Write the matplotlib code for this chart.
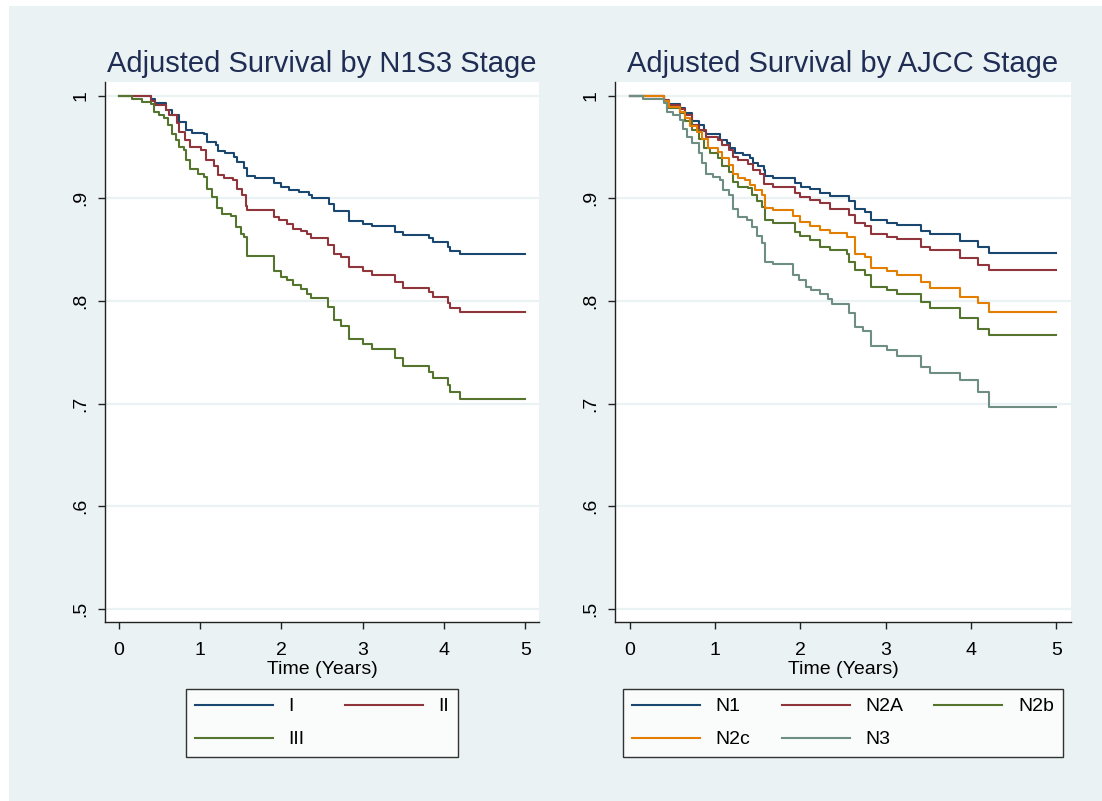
import matplotlib.pyplot as plt
from matplotlib.patches import Rectangle
from matplotlib.lines import Line2D

plt.rcParams["font.family"] = ["Liberation Sans", "DejaVu Sans"]

# ─── Stata s2color palette ───────────────────────────────────────────────────
BG = "#EAF2F3"
TITLE_C = "#1F2D55"
NAVY, MAROON, FOREST, DKORANGE, TEAL = "#1A476F", "#90353B", "#55752F", "#E37E00", "#6E8E84"

# ─── Left panel: N1S3 stage (step points: time, survival) ────────────────────
t_I = [0, 0.39, 0.44, 0.58, 0.65, 0.74, 0.83, 0.90, 1.05, 1.09, 1.19, 1.22, 1.31, 1.42,
       1.46, 1.54, 1.58, 1.68, 1.91, 1.99, 2.10, 2.22, 2.34, 2.38, 2.59, 2.65, 2.83,
       3.00, 3.12, 3.40, 3.50, 3.82, 3.87, 4.05, 4.08, 4.20, 5.0]
s_I = [1.0, 0.9967, 0.9925, 0.986, 0.981, 0.9746, 0.9664, 0.964, 0.9625, 0.955, 0.952,
       0.946, 0.944, 0.940, 0.935, 0.930, 0.922, 0.920, 0.915, 0.911, 0.908, 0.906,
       0.903, 0.900, 0.894, 0.888, 0.878, 0.875, 0.873, 0.867, 0.864, 0.861, 0.857,
       0.853, 0.849, 0.846, 0.846]

t_II = [0, 0.39, 0.45, 0.58, 0.62, 0.72, 0.74, 0.82, 0.88, 1.01, 1.07, 1.17, 1.22, 1.29,
        1.40, 1.45, 1.52, 1.56, 1.58, 1.91, 1.97, 2.07, 2.14, 2.24, 2.32, 2.36, 2.57,
        2.65, 2.73, 2.83, 3.00, 3.12, 3.40, 3.50, 3.82, 3.87, 4.05, 4.08, 4.20, 5.0]
s_II = [1.0, 0.995, 0.991, 0.986, 0.981, 0.973, 0.965, 0.957, 0.950, 0.947, 0.937,
        0.931, 0.923, 0.920, 0.9175, 0.909, 0.903, 0.893, 0.889, 0.882, 0.879, 0.875,
        0.870, 0.868, 0.865, 0.861, 0.855, 0.846, 0.843, 0.833, 0.829, 0.825, 0.818,
        0.813, 0.809, 0.804, 0.798, 0.793, 0.789, 0.789]

t_III = [0, 0.16, 0.29, 0.40, 0.43, 0.49, 0.55, 0.60, 0.66, 0.70, 0.74, 0.80, 0.83, 0.87,
         0.97, 1.05, 1.09, 1.15, 1.21, 1.27, 1.38, 1.44, 1.50, 1.54, 1.58, 1.91, 1.99,
         2.07, 2.14, 2.24, 2.32, 2.36, 2.57, 2.65, 2.73, 2.83, 3.00, 3.12, 3.40, 3.50,
         3.82, 3.87, 4.05, 4.08, 4.20, 5.0]
s_III = [1.0, 0.997, 0.994, 0.992, 0.984, 0.981, 0.978, 0.971, 0.963, 0.957, 0.950,
         0.947, 0.937, 0.929, 0.924, 0.921, 0.909, 0.901, 0.891, 0.885, 0.883, 0.872,
         0.865, 0.862, 0.844, 0.829, 0.823, 0.820, 0.816, 0.812, 0.807, 0.803, 0.794,
         0.781, 0.776, 0.763, 0.758, 0.753, 0.744, 0.737, 0.731, 0.725, 0.718, 0.711,
         0.705, 0.705]

# ─── Right panel: AJCC stage ─────────────────────────────────────────────────
t_N1 = [0, 0.40, 0.44, 0.59, 0.65, 0.73, 0.81, 0.87, 0.90, 1.06, 1.14, 1.18, 1.24, 1.33,
        1.41, 1.45, 1.51, 1.57, 1.59, 1.68, 1.94, 2.01, 2.11, 2.23, 2.35, 2.57, 2.64,
        2.76, 2.83, 3.01, 3.13, 3.41, 3.52, 3.87, 4.08, 4.21, 5.0]
s_N1 = [1.0, 0.996, 0.992, 0.988, 0.983, 0.975, 0.971, 0.966, 0.963, 0.957, 0.954,
        0.949, 0.944, 0.942, 0.939, 0.934, 0.931, 0.928, 0.922, 0.920, 0.915, 0.911,
        0.909, 0.905, 0.902, 0.897, 0.890, 0.887, 0.879, 0.876, 0.874, 0.868, 0.865,
        0.858, 0.853, 0.847, 0.847]

t_N2A = [0, 0.40, 0.46, 0.59, 0.65, 0.73, 0.81, 0.90, 1.04, 1.08, 1.16, 1.21, 1.27,
         1.39, 1.45, 1.53, 1.57, 1.68, 1.94, 2.00, 2.11, 2.23, 2.35, 2.57, 2.64, 2.76,
         2.83, 3.01, 3.13, 3.41, 3.52, 3.87, 4.08, 4.21, 5.0]
s_N2A = [1.0, 0.996, 0.991, 0.987, 0.981, 0.971, 0.967, 0.960, 0.957, 0.952, 0.947,
         0.940, 0.937, 0.933, 0.928, 0.924, 0.914, 0.911, 0.905, 0.901, 0.898, 0.895,
         0.890, 0.884, 0.876, 0.873, 0.865, 0.862, 0.860, 0.853, 0.850, 0.842, 0.835,
         0.830, 0.830]

t_N2b = [0, 0.40, 0.44, 0.59, 0.65, 0.73, 0.81, 0.87, 0.94, 1.04, 1.08, 1.16, 1.21,
         1.27, 1.39, 1.43, 1.49, 1.55, 1.59, 1.68, 1.94, 2.00, 2.11, 2.23, 2.35, 2.55,
         2.57, 2.64, 2.76, 2.83, 3.01, 3.13, 3.41, 3.52, 3.87, 4.08, 4.21, 5.0]
s_N2b = [1.0, 0.994, 0.988, 0.983, 0.975, 0.967, 0.958, 0.949, 0.944, 0.939, 0.931,
         0.926, 0.916, 0.911, 0.910, 0.903, 0.897, 0.892, 0.879, 0.876, 0.867, 0.863,
         0.859, 0.853, 0.850, 0.846, 0.838, 0.830, 0.825, 0.814, 0.811, 0.807, 0.799,
         0.793, 0.783, 0.773, 0.767, 0.767]

t_N2c = [0, 0.40, 0.46, 0.59, 0.65, 0.71, 0.79, 0.85, 0.92, 1.04, 1.08, 1.16, 1.21,
         1.27, 1.35, 1.41, 1.47, 1.55, 1.59, 1.68, 1.92, 2.00, 2.11, 2.23, 2.35, 2.55,
         2.64, 2.76, 2.83, 3.01, 3.13, 3.41, 3.52, 3.87, 4.08, 4.21, 5.0]
s_N2c = [1.0, 0.995, 0.989, 0.984, 0.978, 0.970, 0.965, 0.958, 0.949, 0.945, 0.939,
         0.932, 0.924, 0.920, 0.918, 0.913, 0.908, 0.903, 0.891, 0.889, 0.883, 0.877,
         0.873, 0.869, 0.866, 0.862, 0.846, 0.843, 0.832, 0.829, 0.825, 0.818, 0.813,
         0.804, 0.798, 0.789, 0.789]

t_N3 = [0, 0.16, 0.40, 0.44, 0.51, 0.59, 0.63, 0.67, 0.73, 0.81, 0.85, 0.90, 0.98,
        1.06, 1.10, 1.16, 1.21, 1.27, 1.37, 1.43, 1.49, 1.55, 1.59, 1.68, 1.92, 1.98,
        2.07, 2.13, 2.23, 2.33, 2.37, 2.57, 2.64, 2.74, 2.83, 3.01, 3.13, 3.41, 3.52,
        3.87, 4.08, 4.21, 5.0]
s_N3 = [1.0, 0.997, 0.993, 0.984, 0.981, 0.976, 0.968, 0.960, 0.954, 0.944, 0.934,
        0.924, 0.921, 0.918, 0.908, 0.903, 0.890, 0.882, 0.879, 0.872, 0.863, 0.856,
        0.838, 0.836, 0.825, 0.820, 0.814, 0.811, 0.807, 0.802, 0.797, 0.788, 0.775,
        0.771, 0.756, 0.752, 0.746, 0.736, 0.730, 0.723, 0.711, 0.697, 0.697]

left_series = [("I", t_I, s_I, NAVY), ("II", t_II, s_II, MAROON), ("III", t_III, s_III, FOREST)]
right_series = [("N1", t_N1, s_N1, NAVY), ("N2A", t_N2A, s_N2A, MAROON),
                ("N2b", t_N2b, s_N2b, FOREST), ("N2c", t_N2c, s_N2c, DKORANGE),
                ("N3", t_N3, s_N3, TEAL)]

W, H = 1102, 801
fig = plt.figure(figsize=(W / 100, H / 100), dpi=100, facecolor="white")
fig.patches.append(Rectangle((9 / W, 0), 1 - 9 / W, 1 - 6 / H, transform=fig.transFigure,
                             facecolor=BG, edgecolor="none", zorder=-10))


def panel(rect, series, title, ncol, handlelength, colspace):
    ax = fig.add_axes(rect)
    ax.set_facecolor("white")
    for label, t, s, c in series:
        ax.plot(t, s, drawstyle="steps-post", color=c, lw=1.5, label=label)
    ax.set_xlim(-0.17, 5.17)
    ax.set_ylim(0.4873, 1.0133)
    ax.set_xticks([0, 1, 2, 3, 4, 5])
    ax.set_yticks([0.5, 0.6, 0.7, 0.8, 0.9, 1.0])
    ax.set_yticklabels([".5", ".6", ".7", ".8", ".9", "1"], rotation=90, va="center")
    for y in [0.5, 0.6, 0.7, 0.8, 0.9, 1.0]:
        ax.axhline(y, color=BG, lw=1.6, zorder=0)
    for side in ["top", "right"]:
        ax.spines[side].set_visible(False)
    for side in ["left", "bottom"]:
        ax.spines[side].set_color("#222222")
        ax.spines[side].set_linewidth(1.0)
    ax.tick_params(labelsize=14, length=5, width=1.0, color="#222222")
    ax.tick_params(axis="x", pad=9.5)
    ax.tick_params(axis="y", pad=6.5)
    ax.set_xlabel("Time (Years)", fontsize=14, labelpad=1)
    ax.set_title(title, fontsize=21, color=TITLE_C, pad=7)

    # Stata fills legend rows first; matplotlib fills columns, so reorder
    nrow = -(-len(series) // ncol)
    order = []
    for c in range(ncol):
        for r in range(nrow):
            i = r * ncol + c
            if i < len(series):
                order.append(i)
    handles = [Line2D([], [], color=series[i][3], lw=1.5) for i in order]
    labels = [series[i][0] for i in order]
    leg = ax.legend(handles, labels, loc="upper center", bbox_to_anchor=(0.5, -0.124),
                    ncol=ncol, fontsize=14, frameon=True, fancybox=False,
                    edgecolor="black", handlelength=handlelength, handletextpad=0.8,
                    columnspacing=colspace, borderpad=0.45, labelspacing=0.8,
                    borderaxespad=0)
    leg.get_frame().set_linewidth(1.0)
    return ax


panel([105 / W, 1 - 622 / H, 434 / W, 540 / H], left_series,
      "Adjusted Survival by N1S3 Stage", 2, 4.0, 2.1)
panel([615 / W, 1 - 622 / H, 456 / W, 540 / H], right_series,
      "Adjusted Survival by AJCC Stage", 3, 3.5, 1.6)

fig.savefig("out.png", dpi=100, facecolor=fig.get_facecolor())
